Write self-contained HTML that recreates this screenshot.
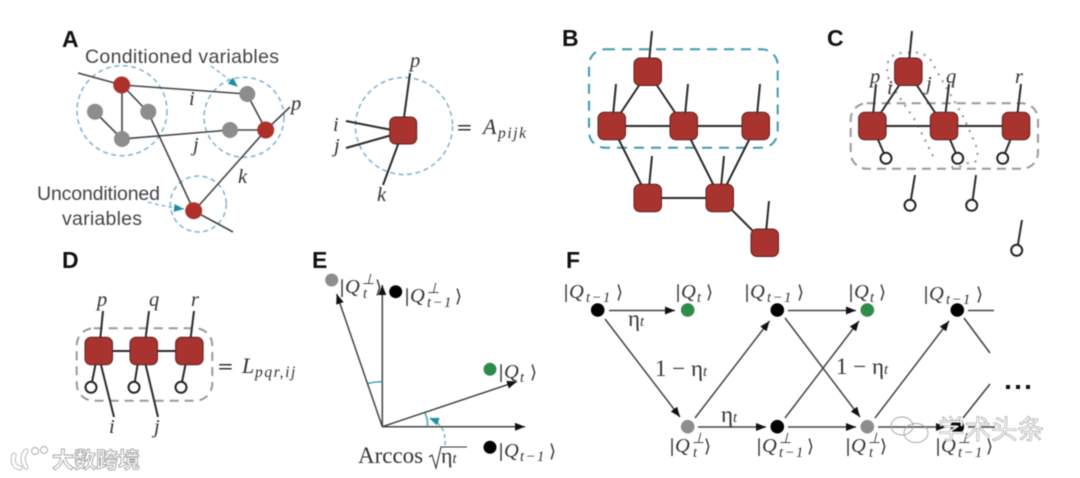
<!DOCTYPE html>
<html><head><meta charset="utf-8"><style>
html,body{margin:0;padding:0;background:#fff;width:1080px;height:478px;overflow:hidden}
svg{display:block;filter:blur(.45px)}
.l{font:bold 23px "Liberation Sans",sans-serif;fill:#111}
.t{font:19.5px "Liberation Sans",sans-serif;fill:#444}
.m{font:italic 20.5px "Liberation Serif",serif;fill:#333}
.u{font-style:normal;font-family:"DejaVu Serif","Liberation Serif",serif;font-size:18px}
.s{font-size:14.5px;letter-spacing:1.6px}
.st{font-size:14.5px}
.sm{font-size:15.5px;letter-spacing:1.6px}
.q{fill:#a9332e;stroke:#5f211e;stroke-width:1}
.k{stroke:#2a2a2a;stroke-width:2;fill:none}
.g{stroke:#444;stroke-width:1.6;fill:none}
.a{stroke:#444;stroke-width:1.5;fill:none;marker-end:url(#ah)}
.o{fill:#fff;stroke:#222;stroke-width:2}
.d{fill:none;stroke:#7fb2cf;stroke-width:1.5;stroke-dasharray:5 3.5}
.w{fill:none;stroke:#a5a5a5;stroke-width:.9}
</style></head><body>
<svg width="1080" height="478" viewBox="0 0 1080 478" xmlns="http://www.w3.org/2000/svg">
<defs>
<marker id="ah" markerUnits="userSpaceOnUse" markerWidth="11" markerHeight="9" refX="10" refY="4" orient="auto"><path d="M0 0L10 4L0 8Z" fill="#111"/></marker>
<marker id="tl" markerUnits="userSpaceOnUse" markerWidth="11" markerHeight="9" refX="10" refY="4" orient="auto"><path d="M0 0L10 4L0 8Z" fill="#1d8ea3"/></marker>
</defs>
<rect width="1080" height="478" fill="#fff"/>

<!-- letters -->
<text class="l" x="62" y="47">A</text><text class="l" x="562" y="46">B</text><text class="l" x="827" y="46">C</text>
<text class="l" x="62" y="268">D</text><text class="l" x="312" y="268">E</text><text class="l" x="566" y="268">F</text>

<!-- A -->
<circle class="d" cx="122" cy="110.7" r="45"/><circle class="d" cx="244" cy="117.3" r="40"/><circle class="d" cx="198.3" cy="204" r="28"/>
<g class="g">
<path d="M78 73L122 85L247 94M122 85V139M122 85L148 112M95 112L122 139L230 130L266 130L247 94M266 130L290 107M266 130L194 211L233 232M148 112L194 211"/>
</g>
<g fill="#8d8d8d"><circle cx="247.3" cy="94" r="8"/><circle cx="95" cy="111.7" r="8"/><circle cx="148.3" cy="111.7" r="8"/><circle cx="122" cy="139" r="8"/><circle cx="230" cy="130" r="8"/></g>
<g fill="#ad302a"><circle cx="121.7" cy="85" r="8.5"/><circle cx="265.7" cy="130" r="8.5"/><circle cx="193.7" cy="210.7" r="8.5"/></g>
<text class="t" x="85" y="63" textLength="194">Conditioned variables</text>
<text class="t" x="37" y="200" textLength="123">Unconditioned</text>
<text class="t" x="62" y="225" textLength="80">variables</text>
<path d="M211 66Q225 76 238 87" fill="none" stroke="#7fb8c8" stroke-width="1.4" stroke-dasharray="4 3" marker-end="url(#tl)"/>
<path d="M148 202Q165 207 184 209" fill="none" stroke="#7fb8c8" stroke-width="1.4" stroke-dasharray="4 3" marker-end="url(#tl)"/>
<text class="m" x="189" y="105">i</text><text class="m" x="193" y="151">j</text><text class="m" x="238" y="183">k</text><text class="m" x="291" y="110">p</text>

<circle class="d" cx="404" cy="126" r="48.5"/>
<path class="k" d="M410 73L403 125M346 121L392 130M346 148L392 135M383 185L403 131"/>
<rect class="q" x="389.7" y="117" width="27" height="27" rx="6"/>
<text class="m" x="410" y="67">p</text><text class="m" x="333" y="131">i</text><text class="m" x="334" y="152">j</text><text class="m" x="377" y="201">k</text>
<text class="m" x="456" y="134" style="font-size:22px"><tspan class="u" style="font-size:20px">=</tspan><tspan x="483">A</tspan><tspan class="sm" dy="4" x="498">pijk</tspan></text>

<!-- B -->
<rect x="589" y="49.3" width="188.7" height="98.4" rx="16" fill="none" stroke="#3b9bb0" stroke-width="2" stroke-dasharray="10 7"/>
<path class="k" d="M648 72L612 126H756M648 72L684 126L720 198L756 126M612 126L648 198H720L765 243M652 31L648 72M616 84L612 126M688 84L684 126M760 84L756 126M652 156L648 198M724 156L720 198M769 201L765 243"/>
<g class="q"><rect x="634" y="58" width="27.5" height="27.5" rx="6"/><rect x="598" y="112.3" width="27.5" height="27.5" rx="6"/><rect x="670" y="112.3" width="27.5" height="27.5" rx="6"/><rect x="742" y="112.3" width="27.5" height="27.5" rx="6"/><rect x="634" y="184.3" width="27.5" height="27.5" rx="6"/><rect x="706" y="184.3" width="27.5" height="27.5" rx="6"/><rect x="751" y="229" width="27.5" height="27.5" rx="6"/></g>

<!-- C -->
<rect x="850.7" y="103.3" width="187.3" height="65.4" rx="16" fill="none" stroke="#999" stroke-width="2" stroke-dasharray="9 6"/>
<path d="M888 62Q892 52 906 53Q925 50 932 62Q938 74 945 85L964 118L977 148Q980 165 968 163Q955 170 950 166M888 62Q885 75 893 88L915 120L935 160" fill="none" stroke="#a0a0a0" stroke-width="2.4" stroke-dasharray="0.1 8" stroke-linecap="round"/>
<path class="k" d="M912 31L908 72L872 126H1016M908 72L944 126M876 84L872 126M949 84L944 126M1021 84L1016 126M872 126L886 158M944 126L958 158M1016 126L1003 158M915 175L910 205M976 175L972 205M1022 220L1017 250"/>
<g class="q"><rect x="894.6" y="58" width="27.5" height="27.5" rx="6"/><rect x="858.6" y="112.3" width="27.5" height="27.5" rx="6"/><rect x="930.3" y="112.3" width="27.5" height="27.5" rx="6"/><rect x="1002.3" y="112.3" width="27.5" height="27.5" rx="6"/></g>
<g class="o"><circle cx="886" cy="158.3" r="5.5"/><circle cx="957.7" cy="158.3" r="5.5"/><circle cx="1002.7" cy="158.3" r="5.5"/><circle cx="910" cy="205.3" r="5.5"/><circle cx="971.7" cy="205.3" r="5.5"/><circle cx="1016.7" cy="250.3" r="5.5"/></g>
<text class="m" x="870" y="83">p</text><text class="m" x="946" y="83">q</text><text class="m" x="1015" y="83">r</text><text class="m" x="887" y="94">i</text><text class="m" x="926" y="90">j</text>

<!-- D -->
<rect x="76.7" y="328.3" width="135.6" height="72.4" rx="17" fill="none" stroke="#999" stroke-width="2" stroke-dasharray="9 6"/>
<path class="k" d="M99 351H189M103 311L99 351M149 311L144 351M194 311L189 351M96 362L91 387M138 362L134 387M186 362L181 387M101 365L114 417M145.7 365L158 417"/>
<g class="q"><rect x="85" y="337.3" width="27.5" height="27.5" rx="6"/><rect x="130" y="337.3" width="27.5" height="27.5" rx="6"/><rect x="175.6" y="337.3" width="27.5" height="27.5" rx="6"/></g>
<g class="o"><circle cx="91" cy="387.3" r="5.5"/><circle cx="134" cy="387.3" r="5.5"/><circle cx="181" cy="387.3" r="5.5"/></g>
<text class="m" x="97" y="306">p</text><text class="m" x="149" y="306">q</text><text class="m" x="191" y="306">r</text><text class="m" x="109" y="433">i</text><text class="m" x="154" y="433">j</text>
<text class="m" x="217" y="373" style="font-size:22px"><tspan class="u" style="font-size:20px">=</tspan><tspan x="242">L</tspan><tspan class="sm" x="255" dy="4">pqr,ij</tspan></text>

<!-- E -->
<path class="a" d="M382.3 426.7V285"/><path class="a" d="M382.3 426.7L336.7 294"/><path class="a" d="M382.3 426.7H525"/><path class="a" d="M382.3 426.7L517 381.5"/>
<path d="M368 383.5Q375 381.5 382 381.8M425 413Q428 420 427.5 426.5" fill="none" stroke="#3f9fc0" stroke-width="1.5"/>
<path d="M445 445Q447 425 429 418" fill="none" stroke="#6fb0c4" stroke-width="1.4" stroke-dasharray="4 3" marker-end="url(#tl)"/>
<circle cx="331.7" cy="280" r="6.5" fill="#8d8d8d"/><circle cx="395.7" cy="291.7" r="6.5" fill="#000"/><circle cx="490" cy="369.3" r="6.5" fill="#2e8b4b"/><circle cx="490" cy="447.3" r="6.5" fill="#000"/>
<text class="m" x="339" y="293"><tspan class="u">|</tspan><tspan x="345">Q</tspan><tspan class="st" x="362" dy="-9">⊥</tspan><tspan class="st" x="363" dy="14">t</tspan><tspan class="u" x="375" dy="-5">⟩</tspan></text>
<text class="m" x="404" y="302"><tspan class="u">|</tspan><tspan x="410">Q</tspan><tspan class="st" x="427" dy="-9">⊥</tspan><tspan class="s" x="427" dy="14">t−1</tspan><tspan class="u" x="455" dy="-5">⟩</tspan></text>
<text class="m" x="498" y="378"><tspan class="u">|</tspan><tspan x="504">Q</tspan><tspan class="st" x="520" dy="4">t</tspan><tspan class="u" x="530" dy="-4">⟩</tspan></text>
<text class="m" x="498" y="457"><tspan class="u">|</tspan><tspan x="504">Q</tspan><tspan class="s" x="520" dy="4">t−1</tspan><tspan class="u" x="549" dy="-4">⟩</tspan></text>
<text x="358" y="463" font-family="Liberation Serif,serif" font-size="23" fill="#333">Arccos</text>
<path d="M429 457L432 455L436 468L441 447H467" fill="none" stroke="#333" stroke-width="1.1"/>
<text x="441" y="463" font-family="Liberation Serif,serif" font-size="22" fill="#333">η<tspan class="st" font-style="italic">t</tspan></text>

<!-- F -->
<path class="a" d="M609 310.5H675"/><path class="a" d="M605 319L680 417"/><path class="a" d="M695 418L769.5 321"/><path class="a" d="M698 427H766"/>
<path class="a" d="M788 310.5H856"/><path class="a" d="M785 318L860 417"/><path class="a" d="M785 418L859 321"/><path class="a" d="M788 427H856"/>
<path class="a" d="M875 418L949 321"/><path class="a" d="M878 427H946"/>
<path class="g" d="M968 310.5H994M964 318L990 353M990 384L963 418M968 427H995"/>
<g fill="#000"><circle cx="597.7" cy="310" r="6.8"/><circle cx="777.3" cy="310" r="6.8"/><circle cx="777.3" cy="426.7" r="6.8"/><circle cx="957.3" cy="310" r="6.8"/><circle cx="957.3" cy="426.7" r="6.8"/></g>
<g fill="#2e8b4b"><circle cx="687.7" cy="310" r="6.8"/><circle cx="867.3" cy="310" r="6.8"/></g>
<g fill="#8d8d8d"><circle cx="687.7" cy="426.7" r="6.8"/><circle cx="867.3" cy="426.7" r="6.8"/></g>
<g fill="#111"><rect x="1006" y="385" width="4" height="4"/><rect x="1016" y="385" width="4" height="4"/><rect x="1026" y="385" width="4" height="4"/></g>

<text class="m" x="563" y="298"><tspan class="u">|</tspan><tspan x="569">Q</tspan><tspan class="s" x="586" dy="4">t−1</tspan><tspan class="u" x="616" dy="-4">⟩</tspan></text>
<text class="m" x="744" y="298"><tspan class="u">|</tspan><tspan x="750">Q</tspan><tspan class="s" x="767" dy="4">t−1</tspan><tspan class="u" x="797" dy="-4">⟩</tspan></text>
<text class="m" x="923" y="300"><tspan class="u">|</tspan><tspan x="929">Q</tspan><tspan class="s" x="946" dy="4">t−1</tspan><tspan class="u" x="976" dy="-4">⟩</tspan></text>
<text class="m" x="675" y="298"><tspan class="u">|</tspan><tspan x="681">Q</tspan><tspan class="st" x="697" dy="4">t</tspan><tspan class="u" x="706" dy="-4">⟩</tspan></text>
<text class="m" x="848" y="298"><tspan class="u">|</tspan><tspan x="854">Q</tspan><tspan class="st" x="870" dy="4">t</tspan><tspan class="u" x="879" dy="-4">⟩</tspan></text>
<text class="m" x="669" y="452"><tspan class="u">|</tspan><tspan x="675">Q</tspan><tspan class="st" x="692" dy="-9">⊥</tspan><tspan class="st" x="693" dy="14">t</tspan><tspan class="u" x="704" dy="-5">⟩</tspan></text>
<text class="m" x="845" y="452"><tspan class="u">|</tspan><tspan x="851">Q</tspan><tspan class="st" x="868" dy="-9">⊥</tspan><tspan class="st" x="869" dy="14">t</tspan><tspan class="u" x="880" dy="-5">⟩</tspan></text>
<text class="m" x="756" y="452"><tspan class="u">|</tspan><tspan x="762">Q</tspan><tspan class="st" x="779" dy="-9">⊥</tspan><tspan class="s" x="779" dy="14">t−1</tspan><tspan class="u" x="807" dy="-5">⟩</tspan></text>
<text class="m" x="935" y="452"><tspan class="u">|</tspan><tspan x="941">Q</tspan><tspan class="st" x="958" dy="-9">⊥</tspan><tspan class="s" x="958" dy="14">t−1</tspan><tspan class="u" x="986" dy="-5">⟩</tspan></text>

<g font-family="Liberation Serif,serif" fill="#333" font-size="23">
<text x="628" y="326">η<tspan class="st" font-style="italic">t</tspan></text>
<text x="721" y="422">η<tspan class="st" font-style="italic">t</tspan></text>
<text x="655" y="376">1 − η<tspan class="st" font-style="italic">t</tspan></text>
<text x="836" y="374">1 − η<tspan class="st" font-style="italic">t</tspan></text>
</g>

<!-- watermarks -->
<g>
<path d="M14 455Q11 466 20 468M26 451Q20 458 26 467" fill="none" stroke="#aaa" stroke-width="5" stroke-linecap="round"/>
<path d="M14 455Q11 466 20 468M26 451Q20 458 26 467" fill="none" stroke="#fff" stroke-width="3.4" stroke-linecap="round"/>
<circle class="w" cx="35" cy="451" r="3.5"/><circle class="w" cx="44" cy="450" r="3.5"/>
<text x="52" y="468" font-family="Noto Sans CJK SC,WenQuanYi Zen Hei,sans-serif" font-size="22" font-weight="700" fill="#fff" stroke="#a5a5a5" stroke-width=".9">大数跨境</text>
<ellipse class="w" cx="902" cy="426" rx="11" ry="9"/><ellipse class="w" cx="916" cy="433" rx="12" ry="9.5" fill="#fff"/>
<text x="938" y="439" font-family="Noto Sans CJK SC,WenQuanYi Zen Hei,sans-serif" font-size="26.5" fill="#fff" stroke="#999" stroke-width=".6">学术头条</text>
</g>
</svg>
</body></html>
